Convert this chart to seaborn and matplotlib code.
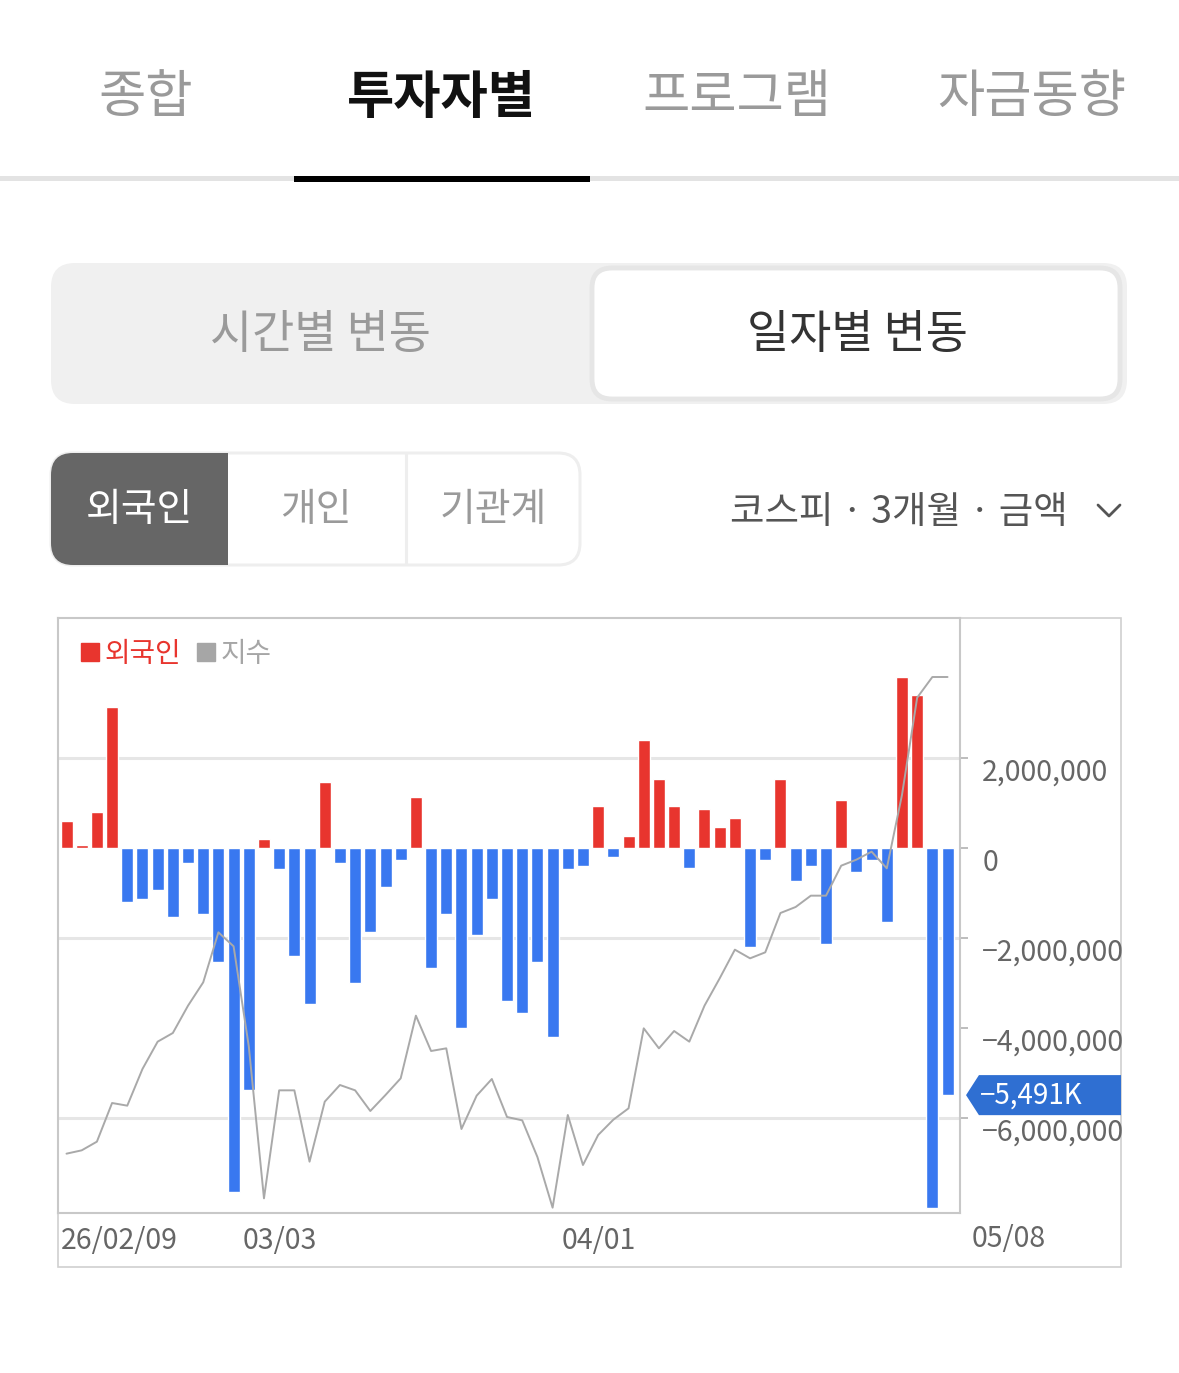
import numpy as np
import pandas as pd
import seaborn as sns
import matplotlib.pyplot as plt
from matplotlib.patches import FancyBboxPatch, Rectangle, Polygon, Patch
from matplotlib.transforms import blended_transform_factory

########################### Data ###########################
# daily foreign net buying (KOSPI, amount), 26/02/09 .. 05/08
foreign_net = [
    600000, 60000, 800000, 3140000, -1190000, -1130000, -930000, -1530000,
    -330000, -1460000, -2530000, -7640000, -5380000, 200000, -460000, -2390000,
    -3460000, 1470000, -330000, -2990000, -1860000, -860000, -260000, 1130000,
    -2660000, -1460000, -3990000, -1930000, -1130000, -3390000, -3660000, -2530000,
    -4190000, -460000, -400000, 930000, -190000, 270000, 2400000, 1530000,
    930000, -450000, 870000, 470000, 670000, -2190000, -260000, 1530000,
    -730000, -390000, -2130000, 1070000, -530000, -260000, -1650000, 3800000,
    3400000, -7990000, -5491000,
]
# KOSPI index (secondary scale, no axis shown)
kospi_index = [
    4989, 4994, 5007, 5065, 5061, 5116, 5157, 5170, 5211, 5246,
    5321, 5300, 5150, 4922, 5084, 5084, 4977, 5067, 5092, 5084,
    5053, 5077, 5102, 5196, 5143, 5147, 5026, 5076, 5101, 5044,
    5039, 4984, 4908, 5047, 4972, 5017, 5040, 5057, 5177, 5147,
    5173, 5157, 5211, 5252, 5295, 5282, 5291, 5350, 5359, 5376,
    5376, 5421, 5430, 5442, 5417, 5527, 5673, 5704, 5704,
]
date_tick_idx = [0, 12, 33]
date_tick_labels = ["26/02/09", "03/03", "04/01"]
last_date_label = "05/08"
y_ticks = [2000000, 0, -2000000, -4000000, -6000000]
grid_lines = [2000000, -2000000, -6000000]

top_tabs = ["종합", "투자자별", "프로그램", "자금동향"]
period_tabs = ["시간별 변동", "일자별 변동"]
investor_tabs = ["외국인", "개인", "기관계"]
selector_text = "코스피 · 3개월 · 금액"
legend_labels = ["외국인", "지수"]
############################################################

RED = "#e8352e"
BLUE = "#3978f0"
LINE_GRAY = "#a9a9a9"
TXT_GRAY = "#666666"
MINUS = "\u2212"

sns.set_style("white")
plt.rcParams["font.family"] = ["Noto Sans CJK KR", "DejaVu Sans"]

W, H = 1179, 1373
fig = plt.figure(figsize=(W / 100, H / 100), dpi=100)
fig.patch.set_facecolor("white")

# ---------------- UI overlay (pixel coordinates) ----------------
ui = fig.add_axes([0, 0, 1, 1], zorder=-1)
ui.set_xlim(0, W)
ui.set_ylim(H, 0)
ui.axis("off")

tab_x = [146, 441, 737, 1032]
for i, (name, x) in enumerate(zip(top_tabs, tab_x)):
    active = i == 1
    ui.text(x, 97, name, ha="center", va="center", fontsize=37,
            color="#111111" if active else "#9a9a9a",
            fontweight="bold" if active else "normal")
ui.add_patch(Rectangle((0, 176), W, 5, color="#e3e3e3", lw=0))
ui.add_patch(Rectangle((294, 175.5), 296, 6.5, color="black", lw=0))

# period segmented control
ui.add_patch(FancyBboxPatch((51, 263), 1076, 141, boxstyle="round,pad=0,rounding_size=24",
                            fc="#f0f0f0", ec="none"))
ui.add_patch(FancyBboxPatch((592, 268), 528, 131, boxstyle="round,pad=0,rounding_size=20",
                            fc="white", ec="#e6e6e6", lw=3.5))
ui.text(320, 335, period_tabs[0], ha="center", va="center", fontsize=33, color="#9a9a9a")
ui.text(857, 335, period_tabs[1], ha="center", va="center", fontsize=33, color="#333333")

# investor buttons
ui.add_patch(FancyBboxPatch((51, 453), 529, 112, boxstyle="round,pad=0,rounding_size=22",
                            fc="white", ec="#eeeeee", lw=2.2))
ui.add_patch(FancyBboxPatch((51, 453), 177, 112, boxstyle="round,pad=0,rounding_size=22",
                            fc="#666666", ec="none"))
ui.add_patch(Rectangle((200, 453), 28, 112, fc="#666666", ec="none"))
ui.plot([406, 406], [454, 564], color="#eeeeee", lw=2.2)
inv_x = [140, 316, 493]
for i, (name, x) in enumerate(zip(investor_tabs, inv_x)):
    ui.text(x, 510, name, ha="center", va="center", fontsize=28,
            color="white" if i == 0 else "#9a9a9a")

ui.text(1068, 512, selector_text, ha="right", va="center", fontsize=27, color="#555555")
ui.plot([1098, 1109, 1120], [505, 516, 505], color="#555555", lw=2)

# outer chart frame
ui.add_patch(Rectangle((58, 618), 1063, 649, fill=False, ec="#d0d0d0", lw=1.2))

# ---------------- chart ----------------
ax = fig.add_axes([58 / W, 1 - 1213 / H, 902 / W, 595 / H])
n = len(foreign_net)
idx = np.arange(n)
df = pd.DataFrame({
    "idx": idx,
    "net": foreign_net,
    "side": ["buy" if v >= 0 else "sell" for v in foreign_net],
    "index": kospi_index,
})

for g in grid_lines:
    ax.axhline(g, color="#e6e6e6", lw=2.2, zorder=0)

sns.barplot(data=df, x="idx", y="net", hue="side", palette={"buy": RED, "sell": BLUE},
            dodge=False, width=0.79, saturation=1, legend=False, ax=ax, zorder=2)

# index line on hidden secondary axis
ax2 = ax.twinx()
sns.lineplot(data=df, x="idx", y="index", color=LINE_GRAY, lw=1.4, ax=ax2)
ax2.set_ylim(4900, 5792.5)
ax2.set_axis_off()

ax.set_xlim(-0.56, n - 1 + 0.82)
ax.set_ylim(-8110000, 5110000)
ax.set_xlabel("")
ax.set_ylabel("")

ax.yaxis.tick_right()
ax.set_yticks(y_ticks)
ax.set_yticklabels([f"{v:,.0f}".replace("-", MINUS) for v in y_ticks])
ax.tick_params(axis="y", left=False, right=True, labelleft=False, labelright=True,
               length=6, width=1.4, color="#bdbdbd", pad=10, labelsize=20.5,
               labelcolor=TXT_GRAY)
for lab in ax.get_yticklabels():
    lab.set_verticalalignment("top")

ax.set_xticks([i - 0.4 for i in date_tick_idx])
ax.set_xticklabels(date_tick_labels, ha="left")
ax.tick_params(axis="x", length=0, pad=9, labelsize=20.5, labelcolor=TXT_GRAY)
trans_x = blended_transform_factory(ax.transData, ax.transAxes)
ax.text(n - 1 + 1.6, -0.019, last_date_label, transform=trans_x, ha="left", va="top",
        fontsize=20.5, color=TXT_GRAY, clip_on=False)

for s in ax.spines.values():
    s.set_color("#c8c8c8")
    s.set_linewidth(1.5)

# legend
handles = [Patch(color=RED), Patch(color="#a6a6a6")]
ax.legend(handles, legend_labels, loc="upper left", bbox_to_anchor=(0.002, 1.0),
          ncol=2, frameon=False, fontsize=20, handlelength=0.65, handleheight=0.65,
          handletextpad=0.2, columnspacing=0.6, borderpad=0.25,
          labelcolor=[RED, "#a6a6a6"])

# last value callout
last = foreign_net[-1]
trans_y = blended_transform_factory(ax.transAxes, ax.transData)
half = 0.445e6
callout = Polygon([(1.0067, last), (1.021, last + half), (1.1785, last + half),
                   (1.1785, last - half), (1.021, last - half)],
                  closed=True, transform=trans_y, fc="#2f6fd2", ec="none", clip_on=False, zorder=5)
ax.add_patch(callout)
ax.text(1.0222, last, f"{last / 1000:,.0f}K".replace("-", MINUS), transform=trans_y,
        ha="left", va="center", fontsize=20, color="white", clip_on=False, zorder=6)

plt.savefig("out.png", dpi=100)
plt.close()
